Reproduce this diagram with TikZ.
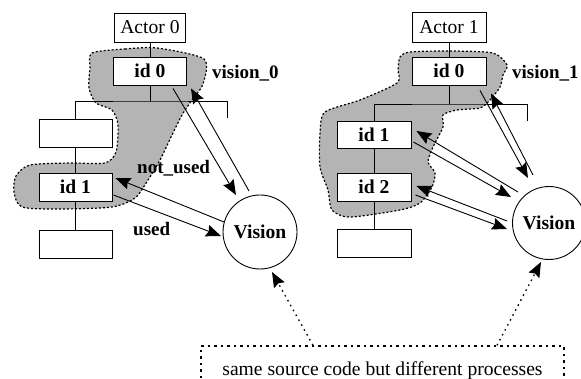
\documentclass[tikz,border=0pt]{standalone}
\usepackage{fontspec}
\setmainfont{Liberation Serif}
\usetikzlibrary{arrows.meta}
\definecolor{blobgray}{RGB}{180,180,180}
\begin{document}
\begin{tikzpicture}[x=1pt,y=-1pt,
  font=\fontsize{19.6}{22}\selectfont,
  box/.style={draw,fill=white,line width=0.9pt,inner sep=0pt},
  topbox/.style={box,minimum width=71pt,minimum height=29pt},
  idbox/.style={box,minimum width=73pt,minimum height=28pt,font=\fontsize{19.6}{22}\selectfont\bfseries},
  vis/.style={circle,draw,fill=white,line width=0.9pt,minimum size=74pt,inner sep=0pt,font=\fontsize{19.6}{22}\selectfont\bfseries},
  tree/.style={line width=0.9pt},
  msg/.style={line width=0.9pt,-{Stealth[length=15pt,width=12pt,inset=2pt]}},
  hint/.style={line width=1.3pt,dash pattern=on 1.6pt off 4pt,-{Stealth[length=15pt,width=12pt,inset=2pt]}},
  blob/.style={fill=blobgray,line width=1.2pt,dash pattern=on 2pt off 2pt},
  lbl/.style={inner sep=0pt,anchor=base west,font=\fontsize{19}{22}\selectfont\bfseries}]
\useasboundingbox (0,0) rectangle (581,379);
\clip (0,0) rectangle (581,379);

% shaded regions of the two process trees
\draw[blob] plot[smooth cycle,tension=0.45] coordinates {
  (92,53) (125,49) (157,48) (204,59) (203,84) (192,100) (182,115) (172,135)
  (160,160) (148,180) (135,198) (112,207) (60,209) (22,207) (14,192) (16,176)
  (30,165) (70,163) (105,163) (116,152) (118,125) (112,110) (96,103) (89,88) (90,68)};
\draw[blob] plot[smooth cycle,tension=0.45] coordinates {
  (400,57) (410,52) (450,51) (493,53) (507,65) (503,75) (500,87) (490,100)
  (480,108) (457,110) (443,115) (443,127) (433,147) (428,162) (435,173) (432,187)
  (420,203) (400,210) (350,217) (332,210) (328,190) (320,167) (320,133) (325,112)
  (360,100) (397,83) (398,70)};

% left tree
\node[topbox] (A0) at (150,27.5) {Actor 0};
\node[idbox] (L0) at (150,71) {id 0};
\node[idbox] (E1) at (75.5,133.5) {};
\node[idbox] (L1) at (75.5,187) {id 1};
\node[idbox] (E2) at (75.5,244) {};
\coordinate (jl) at (150,101);
\coordinate (jlr) at (227,101);
\coordinate (jle) at (227,118);
\draw[tree] (A0.south) -- (L0.north);
\draw[tree] (L0.south) -- (jl);
\draw[tree] (E1.north) |- (jl) -- (jlr) -- (jle);
\draw[tree] (E1.south) -- (L1.north);
\draw[tree] (L1.south) -- (E2.north);

% right tree
\node[topbox,minimum width=74pt,minimum height=30pt] (A1) at (449,27) {Actor 1};
\node[idbox,minimum width=74pt] (R0) at (449,71) {id 0};
\node[idbox,minimum width=74pt,minimum height=27pt] (R1) at (374,134.5) {id 1};
\node[idbox,minimum width=74pt] (R2) at (374,187) {id 2};
\node[idbox,minimum width=74pt] (E3) at (374,243) {};
\coordinate (jr) at (449,104);
\coordinate (jrr) at (527,104);
\coordinate (jre) at (527,121);
\draw[tree] (A1.south) -- (R0.north);
\draw[tree] (R0.south) -- (jr);
\draw[tree] (R1.north) |- (jr) -- (jrr) -- (jre);
\draw[tree] (R1.south) -- (R2.north);
\draw[tree] (R2.south) -- (E3.north);

% vision processes
\node[vis] (VL) at (260,232) {Vision};
\node[vis,minimum size=73pt] (VR) at (549,223) {Vision};

% messages, left
\draw[msg] ([shift={(23,3)}]L0.south) -- ([shift={(-24,-37)}]VL.center);
\draw[msg] ([shift={(-11,-41)}]VL.center) -- ([shift={(41,3)}]L0.south);
\draw[msg] ([shift={(-36,-10)}]VL.center) -- ([shift={(3,-9)}]L1.east);
\draw[msg] ([shift={(1,8)}]L1.east) -- ([shift={(-39,4)}]VL.center);

% messages, right
\draw[msg] ([shift={(31,5)}]R0.south) -- ([shift={(-21,-45)}]VR.center);
\draw[msg] ([shift={(-16,-48)}]VR.center) -- ([shift={(42,8)}]R0.south);
\draw[msg] ([shift={(2,7.5)}]R1.east) -- ([shift={(-38,-26)}]VR.center);
\draw[msg] ([shift={(-31,-31)}]VR.center) -- ([shift={(5,-3.5)}]R1.east);
\draw[msg] ([shift={(4,8)}]R2.east) -- ([shift={(-42,6)}]VR.center);
\draw[msg] ([shift={(-42,-2)}]VR.center) -- ([shift={(5,-1)}]R2.east);

% labels
\node[lbl] (lv0) at (212,79) {vision\_0};
\node[lbl] (lv1) at (512,79) {vision\_1};
\node[lbl] (lnu) at (137,174) {not\_used};
\node[lbl] (lu) at (133,236) {used};

% note
\node[draw,line width=1.3pt,dash pattern=on 2.5pt off 4pt,minimum width=363pt,minimum height=50pt,inner sep=0pt] (note) at (382.5,371) {same source code but different processes};
\draw[hint] ([shift={(-69.5,0)}]note.north) -- ([shift={(12,40)}]VL.center);
\draw[hint] ([shift={(114.5,0)}]note.north) -- ([shift={(-8,39)}]VR.center);
\end{tikzpicture}
\end{document}
